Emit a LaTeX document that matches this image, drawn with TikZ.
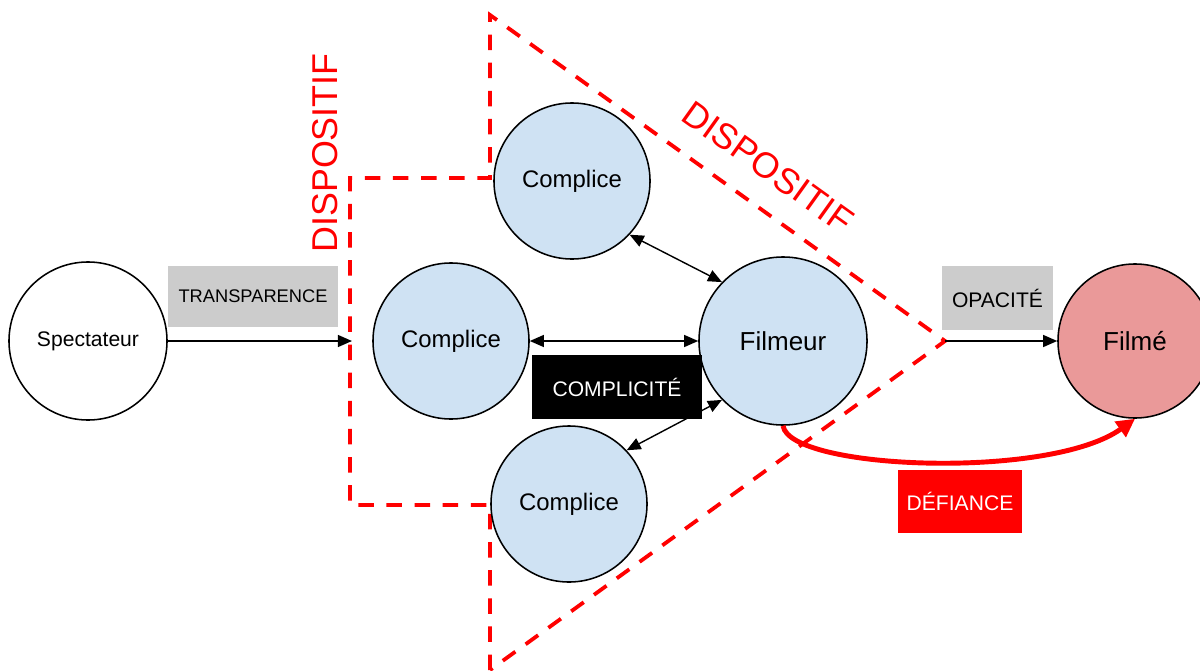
\documentclass[tikz,border=0pt]{standalone}
\usepackage{fontspec}
\setmainfont{Liberation Sans}
\usetikzlibrary{arrows.meta}
\definecolor{bleuclair}{RGB}{207,226,243}
\definecolor{rosefilme}{RGB}{234,153,153}
\definecolor{grisclair}{RGB}{204,204,204}
\tikzset{
	personne/.style={circle,draw,line width=1.1pt,inner sep=0pt,font=\fontsize{17}{20}\selectfont},
	etiquette/.style={inner sep=0pt,font=\fontsize{15}{18}\selectfont},
	cadre/.style={red,line width=2.7pt,dash pattern=on 11pt off 9pt},
	titre/.style={red,inner sep=0pt,font=\fontsize{25.5}{30}\selectfont},
	fleche/.style={line width=1pt,-{Triangle[length=10pt,width=8.5pt]}},
	fleches/.style={line width=1pt,{Triangle[length=10pt,width=8.5pt]}-{Triangle[length=10pt,width=8.5pt]}},
}

\begin{document}
\begin{tikzpicture}[x=0.025cm,y=-0.025cm]
	\useasboundingbox (0,0) rectangle (1200,670);
	\coordinate (haut) at (490,15);
	\coordinate (pointe) at (945,341);
	\coordinate (bas) at (490,670);
	\coordinate (entree) at (352,341);
	\draw[cadre] (bas) -- (490,505) -- (350,505) -- (350,178) -- (490,178) -- (haut) -- (pointe) -- cycle;
	\node[titre,rotate=90] (disp1) at (325,153) {DISPOSITIF};
	\node[titre,rotate=-35.6] (disp2) at (768,167) {DISPOSITIF};

	\node[personne,minimum size=3.95cm,font=\fontsize{15}{18}\selectfont] (spect) at (88,341) {Spectateur};
	\node[personne,fill=bleuclair,minimum size=3.9cm] (comp1) at (572,181) {Complice};
	\node[personne,fill=bleuclair,minimum size=3.9cm] (comp2) at (451,341) {Complice};
	\node[personne,fill=bleuclair,minimum size=3.9cm] (comp3) at (569,504) {Complice};
	\node[personne,fill=bleuclair,minimum size=4.2cm,font=\fontsize{18.5}{22}\selectfont] (filmeur) at (783,341) {Filmeur};
	\node[personne,fill=rosefilme,minimum size=3.85cm,font=\fontsize{18.5}{22}\selectfont] (filme) at (1135,341) {Filmé};

	\node[etiquette,fill=grisclair,minimum width=4.25cm,minimum height=1.525cm,font=\fontsize{13}{16}\selectfont] (transp) at (253,296.5) {TRANSPARENCE};
	\node[etiquette,fill=grisclair,minimum width=2.775cm,minimum height=1.6cm] (opac) at (997.5,298) {OPACITÉ};
	\node[etiquette,fill=black,text=white,minimum width=4.25cm,minimum height=1.6cm] (compl) at (617,387) {COMPLICITÉ};
	\node[etiquette,fill=red,text=white,minimum width=3.1cm,minimum height=1.575cm] (defi) at (960,501.5) {DÉFIANCE};

	\draw[fleche] (spect) -- (entree);
	\draw[fleche] (pointe) -- (filme);
	\draw[fleches] (comp2) -- (filmeur);
	\draw[fleches] (comp1.-43) -- (filmeur.136);
	\draw[fleches] (comp3.43) -- (filmeur.224);
	\draw[red,line width=3.5pt,-{Triangle[length=13pt,width=13pt]}] (filmeur.south) .. controls (790,470) and (1050,480) .. (filme.south);
\end{tikzpicture}
\end{document}
